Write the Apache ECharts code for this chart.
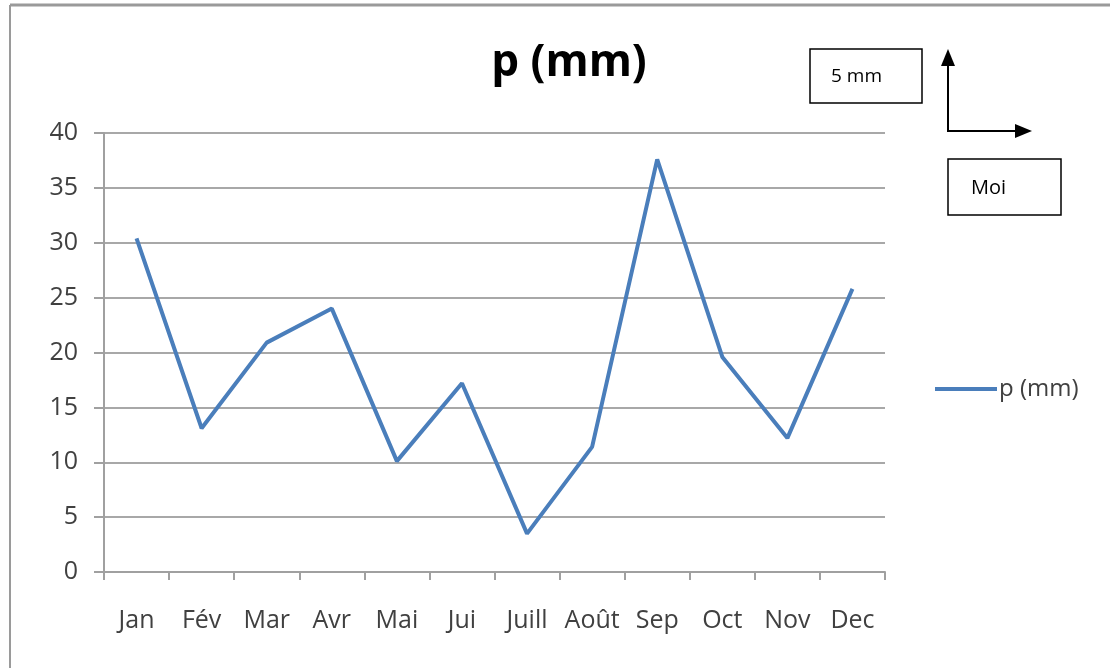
<!DOCTYPE html>
<html>
<head>
<meta charset="utf-8">
<script src="https://cdn.jsdelivr.net/npm/echarts@6/dist/echarts.min.js"></script>
<style>
  html, body { margin: 0; padding: 0; background: #fff; }
  #chart { width: 1110px; height: 668px; }
</style>
</head>
<body>
<div id="chart"></div>
<script>
// données
const mois = ['Jan', 'Fév', 'Mar', 'Avr', 'Mai', 'Jui', 'Juill', 'Août', 'Sep', 'Oct', 'Nov', 'Dec'];
const pluie = [30.4, 13.1, 20.9, 24.0, 10.1, 17.2, 3.5, 11.4, 37.6, 19.6, 12.2, 25.8];
const nomSerie = 'p (mm)';

const police = '"Open Sans", "Noto Sans", sans-serif';
const chart = echarts.init(document.getElementById('chart'));

chart.setOption({
  animation: false,
  title: {
    text: 'p (mm)',
    left: 564,
    top: 36,
    textAlign: 'center',
    textStyle: { fontFamily: police, fontSize: 44, fontWeight: 'bold', color: '#000' }
  },
  legend: {
    data: [nomSerie],
    left: 930,
    top: 372,
    itemWidth: 62,
    itemHeight: 4,
    itemGap: 2,
    icon: 'rect',
    textStyle: { fontFamily: police, fontSize: 24, color: '#404040', padding: [0, 0, 0, -3] }
  },
  grid: { left: 104, right: 225, top: 133, bottom: 96 },
  xAxis: {
    type: 'category',
    data: mois,
    boundaryGap: true,
    axisLine: { lineStyle: { color: '#a0a0a0', width: 2 } },
    axisTick: { show: true, length: 8, lineStyle: { color: '#a0a0a0', width: 2 } },
    axisLabel: { fontFamily: police, fontSize: 25, color: '#404040', margin: 36, interval: 0 }
  },
  yAxis: {
    type: 'value',
    min: 0,
    max: 40,
    interval: 5,
    axisLine: { show: true, lineStyle: { color: '#a0a0a0', width: 2 } },
    axisTick: { show: true, length: 10, lineStyle: { color: '#a0a0a0', width: 2 } },
    splitLine: { lineStyle: { color: '#a8a8a8', width: 2 } },
    axisLabel: { fontFamily: police, fontSize: 25, color: '#404040', margin: 26 }
  },
  series: [{
    name: nomSerie,
    type: 'line',
    data: pluie,
    symbol: 'none',
    itemStyle: { color: '#4a7ebb' },
    lineStyle: { color: '#4a7ebb', width: 4 }
  }],
  graphic: [
    // cadre
    { type: 'line', shape: { x1: 10, y1: 5, x2: 1110, y2: 5 }, style: { stroke: '#9a9a9a', lineWidth: 3 } },
    { type: 'line', shape: { x1: 10, y1: 5, x2: 10, y2: 668 }, style: { stroke: '#9a9a9a', lineWidth: 2 } },
    // encadré 5 mm
    { type: 'rect', shape: { x: 810, y: 49, width: 112, height: 54 }, style: { fill: '#fff', stroke: '#000', lineWidth: 1.5 } },
    { type: 'text', x: 831, y: 77, style: { text: '5 mm', fontFamily: police, fontSize: 19, fill: '#000', verticalAlign: 'middle' } },
    // flèches
    { type: 'line', shape: { x1: 948, y1: 131, x2: 948, y2: 62 }, style: { stroke: '#000', lineWidth: 2 } },
    { type: 'polygon', shape: { points: [[941, 66], [955, 66], [948, 49]] }, style: { fill: '#000' } },
    { type: 'line', shape: { x1: 947, y1: 131, x2: 1018, y2: 131 }, style: { stroke: '#000', lineWidth: 2 } },
    { type: 'polygon', shape: { points: [[1015, 124], [1015, 138], [1032, 131]] }, style: { fill: '#000' } },
    // encadré Moi
    { type: 'rect', shape: { x: 948, y: 159, width: 113, height: 56 }, style: { fill: '#fff', stroke: '#000', lineWidth: 1.5 } },
    { type: 'text', x: 971, y: 188, style: { text: 'Moi', fontFamily: police, fontSize: 20, fill: '#000', verticalAlign: 'middle' } }
  ]
});
</script>
</body>
</html>
